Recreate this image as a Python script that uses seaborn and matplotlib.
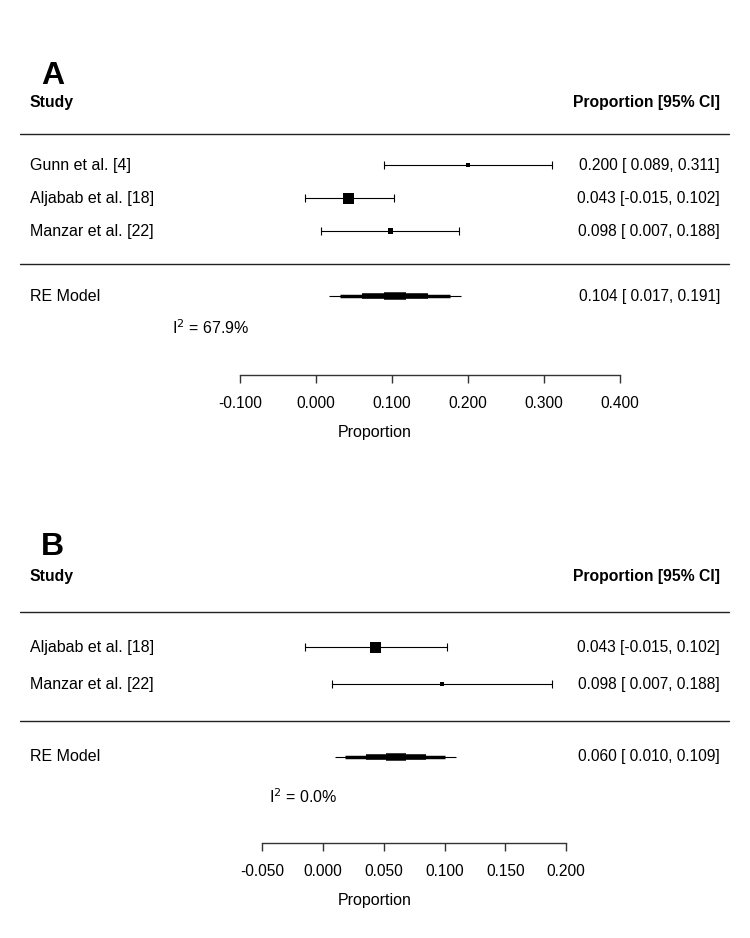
import matplotlib
matplotlib.use("Agg")
import matplotlib.pyplot as plt
import numpy as np
import pandas as pd
import seaborn as sns

# Panel A data
studies_a = ["Gunn et al. [4]", "Aljabab et al. [18]", "Manzar et al. [22]"]
est_a = [0.200, 0.043, 0.098]
lo_a = [0.089, -0.015, 0.007]
hi_a = [0.311, 0.102, 0.188]
re_a = [0.104, 0.017, 0.191]
i2_a = 67.9
ticks_a = [-0.1, 0.0, 0.1, 0.2, 0.3, 0.4]

# Panel B data
studies_b = ["Aljabab et al. [18]", "Manzar et al. [22]"]
est_b = [0.043, 0.098]
lo_b = [-0.015, 0.007]
hi_b = [0.102, 0.188]
re_b = [0.060, 0.010, 0.109]
i2_b = 0.0
ticks_b = [-0.05, 0.0, 0.05, 0.10, 0.15, 0.20]

# summary bar drawn as stacked layers (fraction of CI, thickness in pt)
re_layers = [(1.0, 0.8), (0.83, 2.5), (0.5, 4.0), (0.17, 5.4)]

W, H = 750, 938

sns.set_theme(style="white")
plt.rcParams["font.family"] = ["Liberation Sans", "DejaVu Sans"]
plt.rcParams["text.color"] = "black"
plt.rcParams["axes.labelcolor"] = "black"
plt.rcParams["xtick.color"] = "black"

fig = plt.figure(figsize=(W / 100, H / 100), dpi=100)


def fmt(v):
    return f"{v:.3f}" if v < 0 else f" {v:.3f}"


def forest(ax, letter, studies, est, lo, hi, re, i2, ticks,
           px_zero, px_unit, top_row, bottom_row, i2_x, i2_off, axis_row):
    k = len(studies)
    ax.set_xlim(-px_zero / px_unit, (W - px_zero) / px_unit)
    ax.set_ylim(bottom_row, top_row)
    for s in ["top", "left", "right"]:
        ax.spines[s].set_visible(False)
    ax.set_yticks([])
    ax.patch.set_alpha(0)

    rows = np.arange(k)
    df = pd.DataFrame({"study": studies, "est": est, "lo": lo, "hi": hi, "row": rows})

    # square sizes from inverse-variance weights (metafor style scaling)
    se = (df["hi"] - df["lo"]) / (2 * 1.96)
    w = 1 / se ** 2
    p = w / w.sum()
    psize = (p - p.min()) / (p.max() - p.min()) + 0.5
    side_pt = psize * 5.3

    ax.errorbar(df["est"], df["row"],
                xerr=[df["est"] - df["lo"], df["hi"] - df["est"]],
                fmt="none", ecolor="black", elinewidth=0.8,
                capsize=2.8, capthick=0.8)
    sns.scatterplot(x=df["est"], y=df["row"], ax=ax, marker="s",
                    color="black", s=side_pt ** 2, linewidth=0, zorder=3)

    # summary estimate
    re_row = k + 0.97
    c, l, h = re
    for frac, lw in re_layers:
        ax.plot([c - frac * (c - l), c + frac * (h - c)], [re_row, re_row],
                color="black", lw=lw, solid_capstyle="butt")

    tr = ax.get_yaxis_transform()
    x_left, x_right = 30 / W, 720 / W
    fs = 11.5     # study labels
    fn = 11.2     # numbers
    for r, name, e, a, b in zip(rows, studies, est, lo, hi):
        ax.text(x_left, r, name, transform=tr, ha="left", va="center", fontsize=fs)
        ax.text(x_right, r, f"{e:.3f} [{fmt(a)},{fmt(b)}]", transform=tr,
                ha="right", va="center", fontsize=fn)
    ax.text(x_left, re_row, "RE Model", transform=tr, ha="left", va="center", fontsize=fs)
    ax.text(x_right, re_row, f"{c:.3f} [{fmt(l)},{fmt(h)}]", transform=tr,
            ha="right", va="center", fontsize=fn)
    ax.text(i2_x, re_row + i2_off, r"I$^2$ = " + f"{i2:.1f}%", ha="left",
            va="center", fontsize=fs)

    ax.text(x_left, -1.9, "Study", transform=tr, ha="left", va="center",
            fontsize=11.3, fontweight="bold")
    ax.text(x_right, -1.9, "Proportion [95% CI]", transform=tr, ha="right",
            va="center", fontsize=11.3, fontweight="bold")
    ax.text(41 / W, -2.7, letter, transform=tr, ha="left", va="center",
            fontsize=23, fontweight="bold")

    for y in [-0.95, k]:
        ax.axhline(y, xmin=20 / W, xmax=729 / W, color="#222222", lw=1)

    ax.spines["bottom"].set_position(("data", axis_row))
    ax.spines["bottom"].set_bounds(ticks[0], ticks[-1])
    ax.spines["bottom"].set_color("#333333")
    ax.spines["bottom"].set_linewidth(1)
    ax.set_xticks(ticks)
    ax.set_xticklabels([f"{t:.3f}" for t in ticks])
    ax.tick_params(axis="x", direction="out", length=6, width=1, color="#333333",
                   pad=9, labelsize=fn, bottom=True)
    ax.set_xlabel("Proportion", fontsize=fs, labelpad=10)


ax_a = fig.add_axes([0, 0.5, 1, 0.5])
forest(ax_a, "A", studies_a, est_a, lo_a, hi_a, re_a, i2_a, ticks_a,
       px_zero=316, px_unit=760, top_row=-5.0, bottom_row=9.21,
       i2_x=-0.19, i2_off=0.97, axis_row=6.36)

ax_b = fig.add_axes([0, 0, 1, 0.5])
forest(ax_b, "B", studies_b, est_b, lo_b, hi_b, re_b, i2_b, ticks_b,
       px_zero=323, px_unit=1216, top_row=-4.81, bottom_row=7.86,
       i2_x=-0.044, i2_off=1.08, axis_row=5.30)

fig.savefig("out.png", dpi=100)
